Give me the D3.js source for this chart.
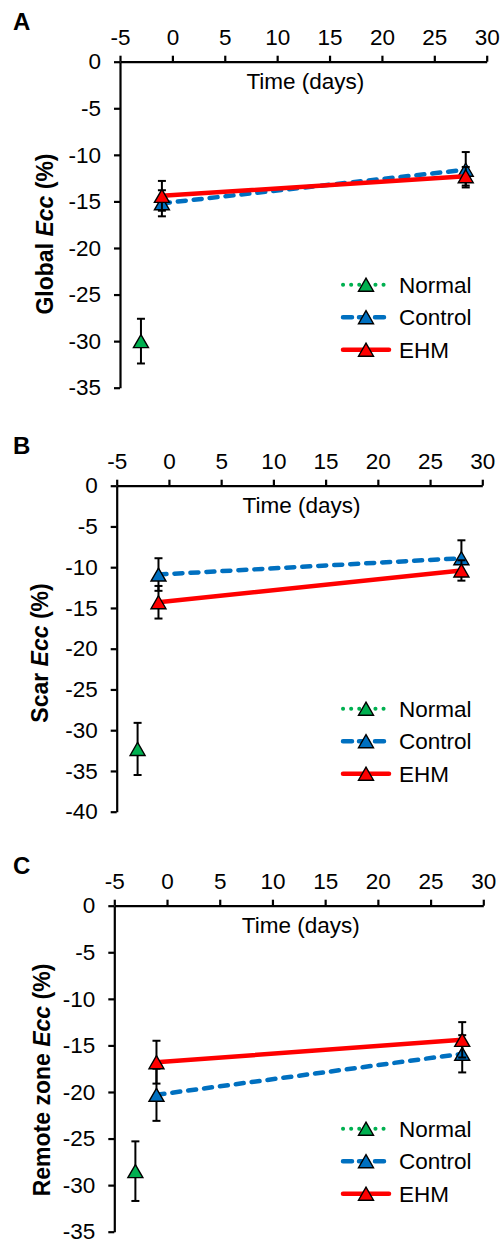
<!DOCTYPE html>
<html>
<head>
<meta charset="utf-8">
<script src="https://cdn.jsdelivr.net/npm/d3@7"></script>
<style>
  body { margin: 0; background: white; }
  svg text { font-family: 'Liberation Sans', Arial, sans-serif; }
</style>
</head>
<body>
<div id="chart"></div>
<script>
// data
let panelLetters = ['A', 'B', 'C'];
let yLabelPrefix = ['Global ', 'Scar ', 'Remote zone '];
let yMins = [-35, -40, -35];
let xTicks = [-5, 0, 5, 10, 15, 20, 25, 30];
let seriesNames = ['Normal', 'Control', 'EHM'];

let normalDay = [-3];
let groupDays = [-1, 28];

let normalMean = [[-30.0], [-32.3], [-28.5]];
let normalErr = [[2.4], [3.2], [3.2]];
let controlMean = [[-15.2, -11.6], [-10.9, -8.9], [-20.3, -15.9]];
let controlErr = [[1.4, 1.9], [2.0, 2.2], [2.8, 2.0]];
let ehmMean = [[-14.4, -12.3], [-14.3, -10.4], [-16.8, -14.4]];
let ehmErr = [[1.6, 1.0], [2.0, 1.25], [2.3, 1.9]];

// layout of each panel (pixel frame)
let frames = [
    {x0: 120, x1: 486.7, y0: 61.7, y1: 387.7, labX: 45, labY: 234},
    {x0: 116.7, x1: 482.3, y0: 485.7, y1: 811.7, labX: 40, labY: 653},
    {x0: 114.3, x1: 483.3, y0: 905.7, y1: 1231.7, labX: 42, labY: 1080}
];

let styles = {
    Normal: {color: '#00B050', dash: '0.1,8', width: 4},
    Control: {color: '#0070C0', dash: '8,8', width: 4.5},
    EHM: {color: '#FF0000', dash: null, width: 4.5}
};

let tri = 'M0,-6.5L7.5,6.5L-7.5,6.5Z';
let fontSize = '22.5px';

let svg = d3.select('#chart').append('svg')
    .attr('width', 500)
    .attr('height', 1243);

function drawPanel(i) {
    let f = frames[i];
    let x = d3.scaleLinear().domain([-5, 30]).range([f.x0, f.x1]);
    let y = d3.scaleLinear().domain([0, yMins[i]]).range([f.y0, f.y1]);
    let g = svg.append('g').attr('class', 'panel');

    // panel letter
    g.append('text')
        .text(panelLetters[i])
        .attr('x', 13)
        .attr('y', f.y0 - 32)
        .style('font-size', '24px')
        .style('font-weight', 'bold');

    // x axis on top
    let xAxis = g.append('g')
        .attr('transform', 'translate(0,' + f.y0 + ')')
        .call(d3.axisTop(x).tickValues(xTicks).tickFormat(d => String(d))
            .tickSize(6).tickSizeOuter(0).tickPadding(11));
    // y axis
    let yAxis = g.append('g')
        .attr('transform', 'translate(' + f.x0 + ',0)')
        .call(d3.axisLeft(y).tickValues(d3.range(0, yMins[i] - 1, -5)).tickFormat(d => String(d))
            .tickSize(6).tickSizeOuter(0).tickPadding(13));

    [xAxis, yAxis].forEach(function(a) {
        a.select('.domain').attr('stroke', '#000').attr('stroke-width', 2.2);
        a.selectAll('.tick line').attr('stroke', '#000').attr('stroke-width', 2.2);
        a.selectAll('.tick text')
            .attr('fill', '#000')
            .style('font-size', fontSize)
            .style('font-family', "'Liberation Sans', Arial, sans-serif");
    });

    g.append('text')
        .text('Time (days)')
        .attr('x', (f.x0 + f.x1) / 2 + 2)
        .attr('y', f.y0 + 27)
        .attr('text-anchor', 'middle')
        .style('font-size', fontSize);

    let yl = g.append('text')
        .attr('transform', 'translate(' + f.labX + ',' + f.labY + ') rotate(-90)')
        .attr('text-anchor', 'middle')
        .attr('dy', '0.35em')
        .style('font-size', '23px')
        .style('font-weight', 'bold');
    yl.append('tspan').text(yLabelPrefix[i]);
    yl.append('tspan').text('Ecc').style('font-style', 'italic');
    yl.append('tspan').text(' (%)');

    let series = [
        {name: 'Normal', days: normalDay, mean: normalMean[i], err: normalErr[i]},
        {name: 'Control', days: groupDays, mean: controlMean[i], err: controlErr[i]},
        {name: 'EHM', days: groupDays, mean: ehmMean[i], err: ehmErr[i]}
    ];

    let line = d3.line().x(d => x(d.day)).y(d => y(d.mean));

    series.forEach(function(s) {
        let st = styles[s.name];
        let pts = s.days.map((d, k) => ({day: d, mean: s.mean[k], err: s.err[k]}));
        let sg = g.append('g');

        if (pts.length > 1) {
            sg.append('path')
                .datum(pts)
                .attr('d', line)
                .attr('fill', 'none')
                .attr('stroke', st.color)
                .attr('stroke-width', st.width)
                .attr('stroke-linecap', 'round')
                .attr('stroke-dasharray', st.dash);
        }

        let eb = sg.selectAll('.err').data(pts).enter().append('g');
        eb.append('line')
            .attr('x1', d => x(d.day)).attr('x2', d => x(d.day))
            .attr('y1', d => y(d.mean + d.err)).attr('y2', d => y(d.mean - d.err))
            .attr('stroke', '#000').attr('stroke-width', 2);
        eb.append('line')
            .attr('x1', d => x(d.day) - 4).attr('x2', d => x(d.day) + 4)
            .attr('y1', d => y(d.mean + d.err)).attr('y2', d => y(d.mean + d.err))
            .attr('stroke', '#000').attr('stroke-width', 2);
        eb.append('line')
            .attr('x1', d => x(d.day) - 4).attr('x2', d => x(d.day) + 4)
            .attr('y1', d => y(d.mean - d.err)).attr('y2', d => y(d.mean - d.err))
            .attr('stroke', '#000').attr('stroke-width', 2);

        sg.selectAll('.mk').data(pts).enter().append('path')
            .attr('d', tri)
            .attr('transform', d => 'translate(' + x(d.day) + ',' + y(d.mean) + ')')
            .attr('fill', st.color)
            .attr('stroke', '#000')
            .attr('stroke-width', 1.4);
    });

    // legend
    let lg = g.append('g').attr('transform', 'translate(0,' + (f.y0 + 223) + ')');
    seriesNames.forEach(function(name, k) {
        let st = styles[name];
        let row = lg.append('g').attr('transform', 'translate(0,' + (k * 32.5) + ')');
        row.append('line')
            .attr('x1', 343).attr('x2', 389)
            .attr('y1', 0).attr('y2', 0)
            .attr('stroke', st.color)
            .attr('stroke-width', st.width)
            .attr('stroke-linecap', 'round')
            .attr('stroke-dasharray', name === 'Control' ? '9,7' : st.dash);
        row.append('path')
            .attr('d', tri)
            .attr('transform', 'translate(366,0)')
            .attr('fill', st.color)
            .attr('stroke', '#000')
            .attr('stroke-width', 1.4);
        row.append('text')
            .text(name)
            .attr('x', 399)
            .attr('y', 0)
            .attr('dy', '0.35em')
            .style('font-size', fontSize);
    });
}

panelLetters.forEach(function(p, i) { drawPanel(i); });
</script>
</body>
</html>
